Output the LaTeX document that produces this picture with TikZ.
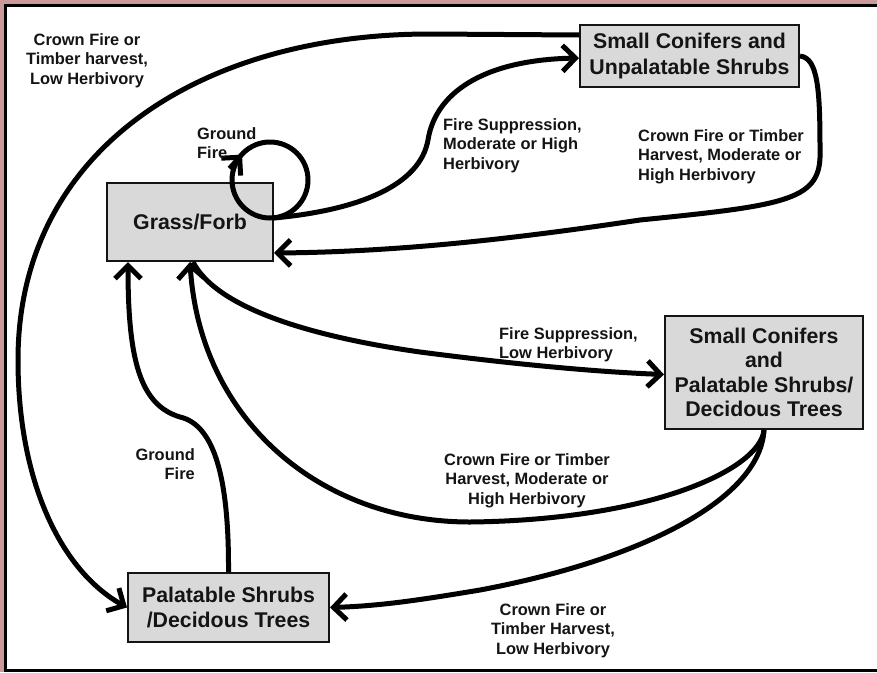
\documentclass[tikz,border=0pt]{standalone}
\usepackage{fontspec}
\setmainfont{Liberation Sans}
\usetikzlibrary{arrows.meta}
\definecolor{framepink}{RGB}{204,153,153}
\definecolor{boxfill}{RGB}{217,217,217}
\definecolor{ink}{RGB}{20,20,20}
\begin{document}
\begin{tikzpicture}[x=1pt,y=1pt,
  statebox/.style={draw=ink, line width=2pt, fill=boxfill, inner sep=0pt, align=center, text=ink, font=\fontsize{21.3}{25.5}\selectfont\bfseries},
  lbl/.style={inner sep=0pt, text=ink, font=\fontsize{16.4}{19.7}\selectfont\bfseries},
  conn/.style={draw=black, line width=5pt, -{Straight Barb[length=13pt,width=26pt]}},
  plain/.style={draw=black, line width=5pt},
]
\useasboundingbox (0,0) rectangle (877,-672);
\fill[framepink] (0,0) rectangle (877,-672);
\fill[white] (4,-4) rectangle (877,-672);
\draw[black, line width=2.5pt] (5.25,-672) -- (5.25,-5.25) -- (877,-5.25);
\draw[black, line width=3pt] (4,-670.5) -- (877,-670.5);

\node[statebox, minimum width=166pt, minimum height=78pt] (gf) at (190,-222) {Grass/Forb};
\node[statebox, minimum width=219pt, minimum height=62pt] (scu) at (689.5,-56) {Small Conifers and\\Unpalatable Shrubs};
\node[statebox, minimum width=198pt, minimum height=113pt, font=\fontsize{21.3}{24.5}\selectfont\bfseries] (scp) at (764,-372.5) {Small Conifers\\and\\Palatable Shrubs/\\Decidous Trees};
\node[statebox, minimum width=201pt, minimum height=69pt] (psd) at (228.5,-607.5) {Palatable Shrubs\\/Decidous Trees};

% Crown fire, low herbivory: top box -> bottom box
\draw[conn] ([yshift=-11pt]scu.north west) -- (430,-34) .. controls (200,-34) and (18,-150) .. (18,-360) .. controls (18,-480) and (60,-570) .. (psd.west);
% ground fire self loop
\coordinate (lc) at (270,-180);
\coordinate (loopfrom) at (229.5,-168.5);
\coordinate (loopto) at (242,-154.6);
\draw[plain] (lc) circle[radius=38];
\draw[conn] (loopfrom) -- (loopto);
% fire suppression, moderate/high
\draw[conn] ([yshift=4pt]gf.east) .. controls (360,-210) and (420,-185) .. (428,-140) .. controls (435,-95) and (480,-60) .. ([yshift=-2pt]scu.west);
% crown fire moderate/high: top box -> grass
\draw[conn] (scu.east) .. controls (818,-58) and (820,-90) .. (820,-150) .. controls (822,-200) and (790,-205) .. (640,-220) .. controls (520,-238) and (400,-252) .. ([yshift=-31pt]gf.east);
% fire suppression low
\draw[conn] ([xshift=3pt]gf.south) .. controls (215,-305) and (300,-335) .. (420,-352) .. controls (520,-365) and (600,-372) .. ([yshift=-2pt]scp.west);
% crown fire moderate/high: right box -> grass
\draw[conn] (scp.south) .. controls (760,-470) and (650,-520) .. (470,-522) .. controls (320,-522) and (200,-420) .. (gf.south);
% crown fire low: right box -> bottom box
\draw[conn] (scp.south) .. controls (760,-500) and (640,-560) .. (480,-590) .. controls (420,-600) and (380,-606) .. (psd.east);
% ground fire: bottom box -> grass
\draw[conn] (psd.north) .. controls (229,-480) and (215,-425) .. (180,-417) .. controls (140,-405) and (128,-360) .. ([xshift=-62pt]gf.south);

\node[lbl, anchor=north, align=center] (l1) at (87,-33) {Crown Fire or\\Timber harvest,\\Low Herbivory};
\node[lbl, anchor=north west, align=left] (l2) at (197,-127) {Ground\\Fire};
\node[lbl, anchor=north west, align=left] (l3) at (443,-118) {Fire Suppression,\\Moderate or High\\Herbivory};
\node[lbl, anchor=north west, align=left] (l4) at (638,-129) {Crown Fire or Timber\\Harvest, Moderate or\\High Herbivory};
\node[lbl, anchor=north west, align=left] (l5) at (499,-327) {Fire Suppression,\\Low Herbivory};
\node[lbl, anchor=north, align=center] (l6) at (527,-453) {Crown Fire or Timber\\Harvest, Moderate or\\High Herbivory};
\node[lbl, anchor=north, align=center] (l7) at (553,-603) {Crown Fire or\\Timber Harvest,\\Low Herbivory};
\node[lbl, anchor=north east, align=right] (l8) at (195,-448) {Ground\\Fire};
\end{tikzpicture}
\end{document}
